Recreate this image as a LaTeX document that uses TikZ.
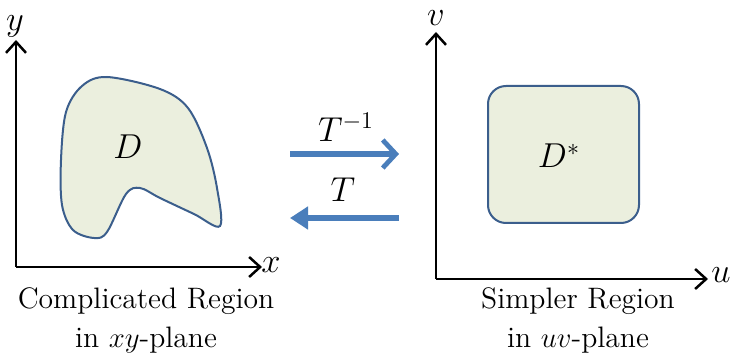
\documentclass[tikz,border=0pt]{standalone}
\usetikzlibrary{arrows.meta}
\definecolor{regfill}{HTML}{EBEFDE}
\definecolor{regline}{HTML}{3B5E8C}
\definecolor{arrblue}{HTML}{4A7EBB}
\begin{document}
\begin{tikzpicture}[x=0.5pt,y=-0.5pt,
  every node/.style={font=\fontsize{14.8}{17}\selectfont, inner sep=0pt},
  mlab/.style={font=\fontsize{17.5}{20}\selectfont},
  axis/.style={line width=1.25pt, -{Straight Barb[length=5.5pt,width=10pt,line width=1.25pt]}},
  region/.style={fill=regfill, draw=regline, line width=1pt},
  maparrow/.style={line width=2.6pt, arrblue}]
\useasboundingbox (0,0) rectangle (730,358);
% left axes
\coordinate (o1) at (16,267);
\coordinate (y1) at (16,40);
\coordinate (x1) at (262,267);
\draw[axis] (o1) -- (y1);
\draw[axis] (o1) -- (x1);
\node[mlab] (ylab) at (15,26) {$y$};
\node[mlab] (xlab) at (271,265) {$x$};
% blob
\draw[region] plot[smooth cycle, tension=0.55] coordinates {
 (107,77) (160,89) (188,108) (207,148) (217,188) (220,226)
 (194,214) (160,198) (140,188) (126,194) (107,232) (94,238) (73,230) (62,205)
 (61,160) (66,112) (82,86)};
\node[mlab] (D) at (128,147) {$D$};
% right axes
\coordinate (o2) at (436,279);
\coordinate (y2) at (436,32);
\coordinate (x2) at (708,279);
\draw[axis] (o2) -- (y2);
\draw[axis] (o2) -- (x2);
\node[mlab] (vlab) at (436,18) {$v$};
\node[mlab] (ulab) at (721,275) {$u$};
\node[region, rounded corners=9pt, minimum width=75.5pt, minimum height=68.5pt] (Dstar) at (563.5,154.5) {};
\node[mlab] (Dslab) at (559,156) {$D^{*}$};
% map arrows
\coordinate (a1s) at (290,154);
\coordinate (a1e) at (399,154);
\draw[maparrow, -{Straight Barb[length=6.5pt,width=14pt,line width=2.4pt]}] (a1s) -- (a1e);
\node[mlab] (Tinv) at (346,127) {$T^{-1}$};
\coordinate (a2s) at (399,218);
\coordinate (a2e) at (290,218);
\draw[maparrow, -{Triangle[length=9pt,width=11pt]}] (a2s) -- (a2e);
\node[mlab] (T) at (343,190) {$T$};
% captions
\node (c1) at (146,301) {Complicated Region};
\node (c2) at (146,340) {in $xy$-plane};
\node (c3) at (578,301) {Simpler Region};
\node (c4) at (578,340) {in $uv$-plane};
\end{tikzpicture}
\end{document}
